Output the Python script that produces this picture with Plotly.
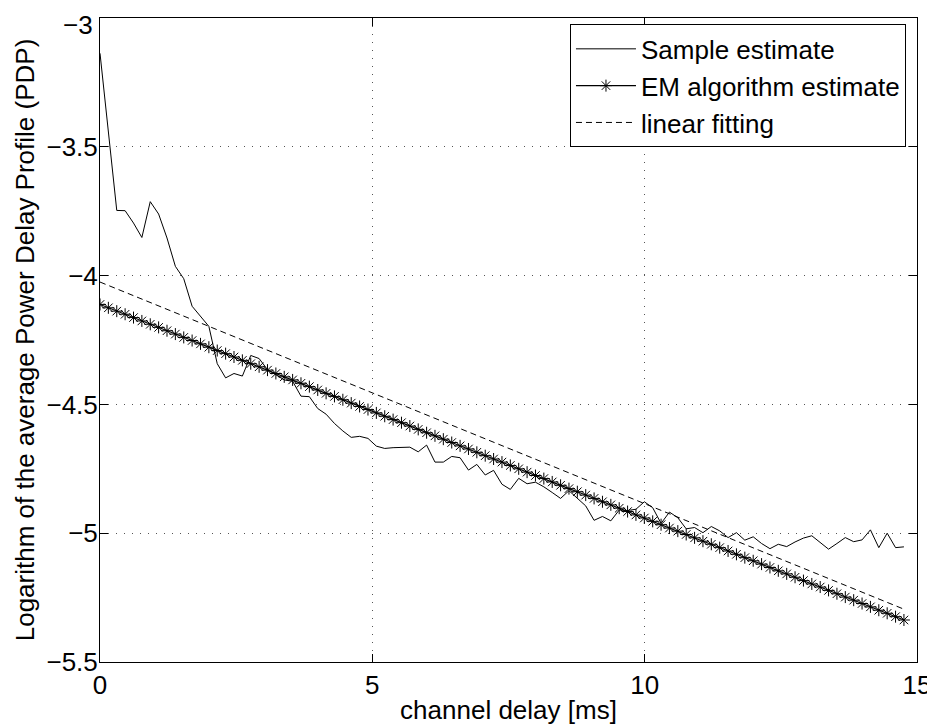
import numpy as np
import plotly.graph_objects as go

# channel delay grid [ms]
delay_ms = np.linspace(0, 14.76, 97)

sample_estimate = [
    -3.137, -3.450, -3.747, -3.748, -3.796, -3.852, -3.713, -3.761, -3.854, -3.964,
    -4.012, -4.119, -4.158, -4.197, -4.342, -4.397, -4.380, -4.390, -4.310, -4.322,
    -4.365, -4.385, -4.405, -4.410, -4.468, -4.470, -4.516, -4.538, -4.574, -4.603,
    -4.628, -4.624, -4.632, -4.662, -4.671, -4.668, -4.668, -4.666, -4.684, -4.658,
    -4.724, -4.724, -4.702, -4.707, -4.755, -4.733, -4.774, -4.756, -4.810, -4.830,
    -4.787, -4.808, -4.802, -4.820, -4.842, -4.865, -4.835, -4.865, -4.894, -4.950,
    -4.935, -4.952, -4.910, -4.912, -4.907, -4.878, -4.901, -4.962, -4.918, -4.940,
    -4.983, -4.978, -4.998, -4.974, -4.991, -5.017, -4.998, -5.027, -5.014, -5.040,
    -5.060, -5.043, -5.052, -5.034, -5.019, -5.010, -5.036, -5.062, -5.040, -5.017,
    -5.033, -5.026, -4.987, -5.056, -5.000, -5.056, -5.053,
]

em_estimate = [
    -4.112, -4.125, -4.138, -4.150, -4.163, -4.176, -4.189, -4.201, -4.214, -4.227,
    -4.240, -4.252, -4.265, -4.278, -4.291, -4.303, -4.316, -4.329, -4.342, -4.354,
    -4.367, -4.380, -4.393, -4.405, -4.418, -4.431, -4.444, -4.457, -4.469, -4.482,
    -4.495, -4.508, -4.520, -4.533, -4.546, -4.559, -4.571, -4.584, -4.597, -4.610,
    -4.622, -4.635, -4.648, -4.661, -4.673, -4.686, -4.699, -4.712, -4.724, -4.737,
    -4.750, -4.763, -4.776, -4.788, -4.801, -4.814, -4.827, -4.839, -4.852, -4.865,
    -4.878, -4.890, -4.903, -4.916, -4.929, -4.941, -4.954, -4.967, -4.980, -4.992,
    -5.005, -5.018, -5.031, -5.043, -5.056, -5.069, -5.082, -5.095, -5.107, -5.120,
    -5.133, -5.146, -5.158, -5.171, -5.184, -5.197, -5.209, -5.222, -5.235, -5.248,
    -5.260, -5.273, -5.286, -5.299, -5.311, -5.324, -5.337,
]

linear_fit_x = [0.0, 14.76]
linear_fit_y = [-4.025, -5.295]

x_ticks = [0, 5, 10, 15]
y_ticks = [-5.5, -5, -4.5, -4, -3.5, -3]

FONT = "Liberation Sans, Arial, Helvetica, sans-serif"
FS = 26


def fmt(v):
    return ("\u2212" + f"{abs(v):g}") if v < 0 else f"{v:g}"


fig = go.Figure()
fig.add_trace(go.Scatter(
    x=delay_ms, y=sample_estimate, mode="lines", name="Sample estimate",
    line=dict(color="black", width=1),
))
fig.add_trace(go.Scatter(
    x=delay_ms, y=em_estimate, mode="lines+markers", name="EM algorithm estimate",
    line=dict(color="black", width=1.2),
    marker=dict(symbol="asterisk-open", size=10, color="black",
                line=dict(color="black", width=1)),
))
fig.add_trace(go.Scatter(
    x=linear_fit_x, y=linear_fit_y, mode="lines", name="linear fitting",
    line=dict(color="black", width=1, dash="6px,4px"),
))

axis_common = dict(
    showline=True, linecolor="black", linewidth=1, mirror="ticks",
    ticks="inside", ticklen=8, tickcolor="black", tickwidth=1,
    showgrid=True, gridcolor="#555555", gridwidth=1, griddash="1px,7px",
    zeroline=False, automargin=False, ticklabeloverflow="allow",
    tickfont=dict(size=FS, color="black", family=FONT),
)

fig.update_xaxes(
    range=[0, 15], tickvals=x_ticks, ticktext=[fmt(v) for v in x_ticks],
    title=dict(text="channel delay [ms]", font=dict(size=FS, color="black", family=FONT),
               standoff=2),
    **axis_common,
)

# the top tick label sits slightly below its tick (as in the original); draw it as an annotation
top_tick = max(y_ticks)
fig.update_yaxes(
    range=[-5.5, -3], tickvals=y_ticks,
    ticktext=["" if v == top_tick else fmt(v) for v in y_ticks],
    ticklabelstandoff=-4,
    title=dict(text="Logarithm of the average Power Delay Profile (PDP)",
               font=dict(size=FS, color="black", family=FONT), standoff=4),
    **axis_common,
)
fig.add_annotation(
    xref="paper", yref="y", x=0, y=top_tick, text=fmt(top_tick),
    showarrow=False, xanchor="right", yanchor="middle",
    xshift=-5, yshift=-7,
    font=dict(size=FS, color="black", family=FONT),
)

# page body has an 8px default margin; size the figure so it fits the 935x725 window
fig.update_layout(
    width=927, height=717,
    margin=dict(l=92, r=18, t=10, b=63),
    paper_bgcolor="white", plot_bgcolor="white",
    font=dict(family=FONT, color="black", size=FS),
    showlegend=True,
    legend=dict(
        x=0.9865, y=0.99, xanchor="right", yanchor="top",
        bgcolor="white", bordercolor="black", borderwidth=1,
        font=dict(size=FS, color="black", family=FONT),
        tracegroupgap=0, itemwidth=60,
    ),
)

fig.write_html("out.html")
